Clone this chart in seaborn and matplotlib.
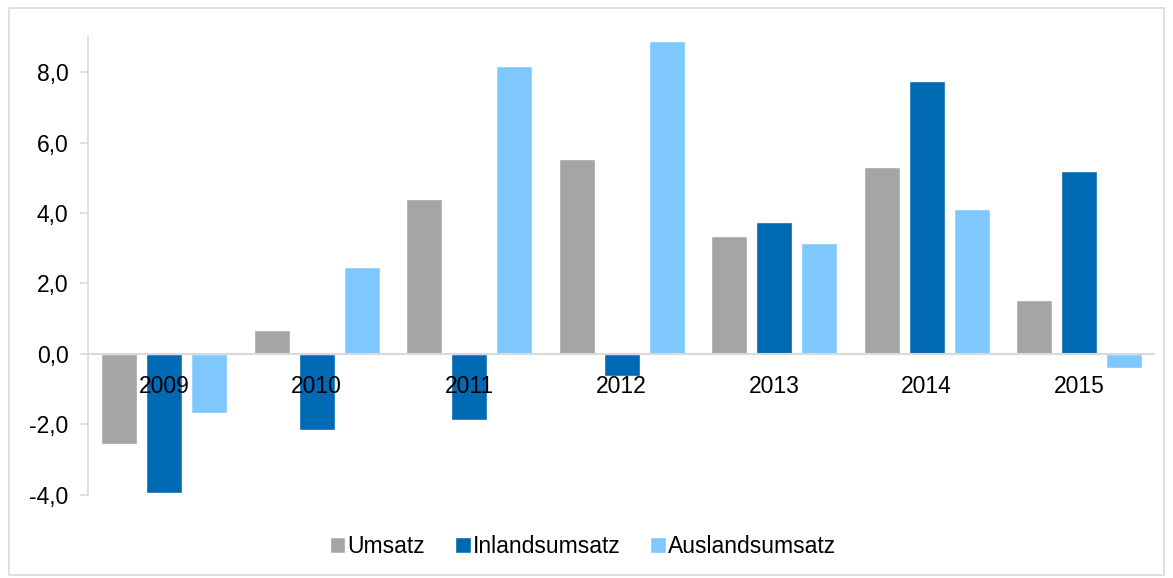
import numpy as np
import pandas as pd
import matplotlib
matplotlib.use("Agg")
import matplotlib.pyplot as plt
import seaborn as sns

years = ["2009", "2010", "2011", "2012", "2013", "2014", "2015"]
umsatz = [-2.55, 0.68, 4.40, 5.53, 3.35, 5.30, 1.53]
inlandsumsatz = [-3.94, -2.16, -1.87, -0.62, 3.74, 7.74, 5.19]
auslandsumsatz = [-1.67, 2.47, 8.17, 8.88, 3.15, 4.11, -0.40]
series = ["Umsatz", "Inlandsumsatz", "Auslandsumsatz"]
colors = ["#A5A5A5", "#0069B4", "#7FC8FF"]

df = pd.DataFrame({"Jahr": years * 3,
                   "Wert": umsatz + inlandsumsatz + auslandsumsatz,
                   "Reihe": np.repeat(series, len(years))})

sns.set_style("white", {"text.color": "black", "axes.labelcolor": "black",
                        "xtick.color": "black", "ytick.color": "black"})
plt.rcParams['font.family'] = ['Liberation Sans', 'DejaVu Sans']
fs = 16.5

fig = plt.figure(figsize=(11.73, 5.78), dpi=100)
ax = fig.add_axes([0.075, 0.144, 0.910, 0.792])
sns.barplot(data=df, x="Jahr", y="Wert", hue="Reihe", palette=colors,
            width=0.885, gap=0.2, saturation=1, ax=ax, legend=True)

ax.set_ylim(-4, 9)
ax.set_yticks(np.arange(-4, 9, 2))
ax.set_yticklabels([("%.1f" % v).replace(".", ",") for v in np.arange(-4, 9, 2)])
ax.set_xlim(-0.5, len(years) - 0.5)
ax.set_xlabel("")
ax.set_ylabel("")

for s in ["top", "right", "bottom"]:
    ax.spines[s].set_visible(False)
ax.spines["left"].set_color("#D9D9D9")
ax.spines["left"].set_linewidth(1.2)
ax.axhline(0, color="#D9D9D9", lw=1.5, zorder=3)

ax.tick_params(axis="y", left=True, length=6, width=1.2, color="#D9D9D9",
               labelcolor="black", labelsize=fs, pad=8)
ax.tick_params(axis="x", length=0)
ax.set_xticklabels([])
# category labels sit just under the zero line, over the bars
for i, y in enumerate(years):
    ax.text(i, -0.6, y, ha="center", va="top", fontsize=fs, color="black", zorder=5)

handles, labels = ax.get_legend_handles_labels()
fig.legend(handles, labels, loc="center", bbox_to_anchor=(0.497, 0.055),
           ncol=3, frameon=False, fontsize=fs, handlelength=0.68, handleheight=0.68,
           handletextpad=0.1, columnspacing=1.3, labelcolor="black")
ax.get_legend().remove()

fig.patches.append(plt.Rectangle((0.008, 0.005), 0.984, 0.982, transform=fig.transFigure,
                                 fill=False, edgecolor="#D9D9D9", lw=1.2))
fig.savefig("out.png", dpi=100)
